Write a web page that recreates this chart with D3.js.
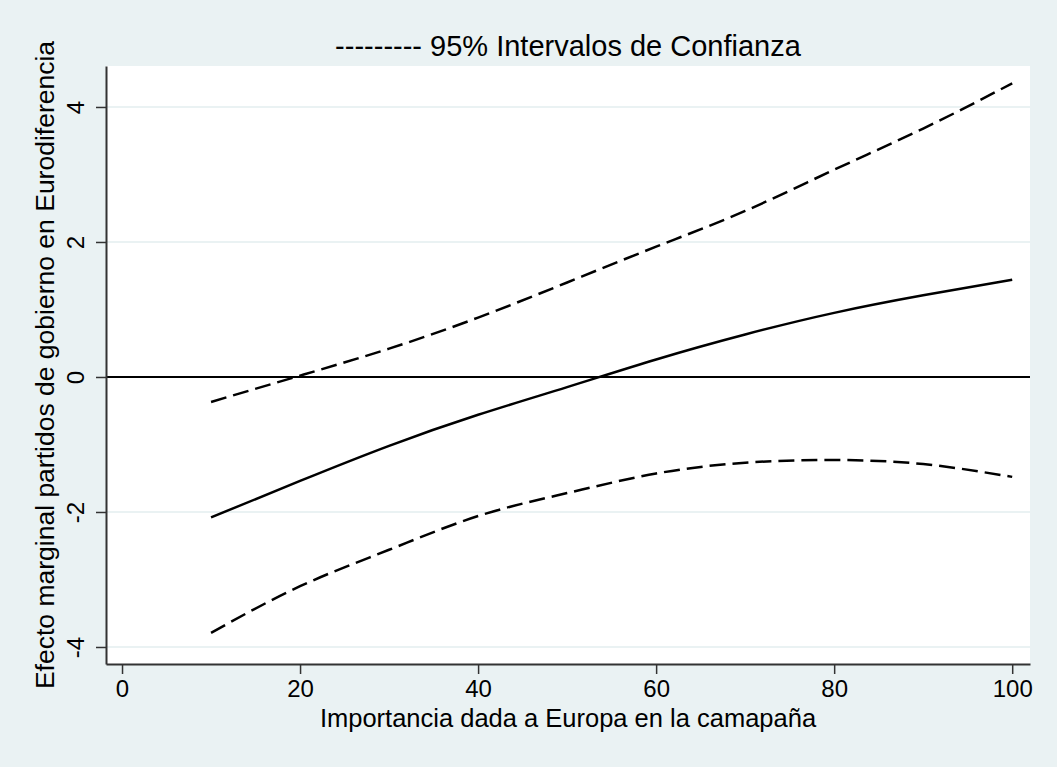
<!DOCTYPE html>
<html>
<head>
<meta charset="utf-8">
<script src="https://cdn.jsdelivr.net/npm/d3@7"></script>
<style>
  body { margin: 0; background: #EAF2F3; }
  text { font-family: "Liberation Sans", Arial, sans-serif; fill: #000; }
</style>
</head>
<body>
<svg id="chart" width="1057" height="767"></svg>
<script>
// values
var xVals   = [10, 20, 30, 40, 50, 60, 70, 80, 90, 100];
var efecto  = [-2.08, -1.54, -1.02, -0.56, -0.15, 0.26, 0.63, 0.95, 1.21, 1.44];
var ciUpper = [-0.37, 0.02, 0.42, 0.88, 1.40, 1.93, 2.46, 3.07, 3.68, 4.35];
var ciLower = [-3.79, -3.10, -2.56, -2.06, -1.72, -1.43, -1.27, -1.23, -1.29, -1.48];
var xTicks  = [0, 20, 40, 60, 80, 100];
var yTicks  = [-4, -2, 0, 2, 4];

var W = 1057, H = 767;
var margin = {top: 66, right: 27, bottom: 103, left: 106};
var width = W - margin.left - margin.right,
    height = H - margin.top - margin.bottom;

var svg = d3.select("#chart");
svg.append("rect").attr("width", W).attr("height", H).attr("fill", "#EAF2F3");

var g = svg.append("g")
    .attr("transform", "translate(" + margin.left + "," + margin.top + ")");

var xScale = d3.scaleLinear().domain([-1.8, 102.0]).range([0, width]);
var yScale = d3.scaleLinear().domain([-4.252, 4.607]).range([height, 0]);

// plot region
g.append("rect").attr("width", width).attr("height", height).attr("fill", "#fff");

// grid lines
g.selectAll(".grid").data(yTicks).enter().append("line")
    .attr("class", "grid")
    .attr("x1", 0).attr("x2", width)
    .attr("y1", function(d){ return yScale(d); })
    .attr("y2", function(d){ return yScale(d); })
    .attr("stroke", "#EAF2F3")
    .attr("stroke-width", 2);

// zero line
g.append("line")
    .attr("x1", 0).attr("x2", width)
    .attr("y1", yScale(0)).attr("y2", yScale(0))
    .attr("stroke", "#000").attr("stroke-width", 2);

var data = xVals.map(function(x, i){
    return {x: x, m: efecto[i], hi: ciUpper[i], lo: ciLower[i]};
});

function mkLine(key){
    return d3.line()
        .curve(d3.curveNatural)
        .x(function(d){ return xScale(d.x); })
        .y(function(d){ return yScale(d[key]); });
}

g.append("path").datum(data)
    .attr("d", mkLine("hi"))
    .attr("fill", "none").attr("stroke", "#000")
    .attr("stroke-width", 2.5).attr("stroke-dasharray", "16,7");
g.append("path").datum(data)
    .attr("d", mkLine("lo"))
    .attr("fill", "none").attr("stroke", "#000")
    .attr("stroke-width", 2.5).attr("stroke-dasharray", "16,7");
g.append("path").datum(data)
    .attr("d", mkLine("m"))
    .attr("fill", "none").attr("stroke", "#000")
    .attr("stroke-width", 2.5);

// axes
var xAxis = d3.axisBottom(xScale).tickValues(xTicks).tickSize(10).tickSizeOuter(0).tickPadding(4);
var yAxis = d3.axisLeft(yScale).tickValues(yTicks).tickSize(10).tickSizeOuter(0)
    .tickFormat(function(d){ return d; });

var gx = g.append("g").attr("transform", "translate(0," + height + ")").call(xAxis);
gx.select(".domain").attr("stroke", "#333").attr("stroke-width", 2);
gx.selectAll(".tick line").attr("stroke", "#333").attr("stroke-width", 1.5);
gx.selectAll(".tick text")
    .attr("font-size", 24)
    .attr("font-family", "Liberation Sans, Arial, sans-serif")
    .attr("fill", "#000")
    .attr("dy", "0.8em");

var gy = g.append("g").call(yAxis);
gy.select(".domain").attr("stroke", "#333").attr("stroke-width", 2);
gy.selectAll(".tick line").attr("stroke", "#333").attr("stroke-width", 1.5);
gy.selectAll(".tick text").remove();
gy.selectAll(".tick").append("text")
    .attr("transform", "rotate(-90)")
    .attr("x", 0).attr("y", -22)
    .attr("text-anchor", "middle")
    .attr("font-size", 24)
    .text(function(d){ return d; });

// titles
svg.append("text")
    .attr("x", margin.left + width / 2).attr("y", 56)
    .attr("text-anchor", "middle")
    .attr("font-size", 29)
    .text("--------- 95% Intervalos de Confianza");

svg.append("text")
    .attr("x", margin.left + width / 2).attr("y", 727)
    .attr("text-anchor", "middle")
    .attr("font-size", 25.5)
    .text("Importancia dada a Europa en la camapaña");

svg.append("text")
    .attr("transform", "translate(54," + (margin.top + height / 2) + ") rotate(-90)")
    .attr("text-anchor", "middle")
    .attr("font-size", 26.5)
    .text("Efecto marginal partidos de gobierno en Eurodiferencia");
</script>
</body>
</html>
